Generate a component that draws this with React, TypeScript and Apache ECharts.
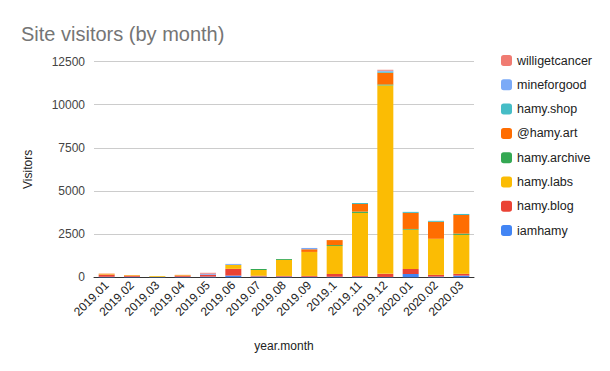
import React, { useEffect, useRef } from "react";
import * as echarts from "echarts";

const categories = ["2019.01","2019.02","2019.03","2019.04","2019.05","2019.06","2019.07","2019.08","2019.09","2019.1","2019.11","2019.12","2020.01","2020.02","2020.03"];
const iamhamy =        [30, 30, 30, 30, 40, 100, 40, 40, 30, 30, 30, 20, 190, 40, 100];
const hamyBlog =       [130, 60, 0, 60, 110, 390, 50, 40, 50, 160, 50, 180, 290, 100, 100];
const hamyLabs =       [30, 30, 45, 25, 0, 230, 330, 930, 1390, 1620, 3650, 10915, 2280, 2090, 2260];
const hamyArchive =    [0, 0, 0, 0, 0, 0, 60, 50, 0, 55, 75, 55, 40, 0, 70];
const hamyArt =        [20, 15, 0, 25, 0, 0, 0, 0, 155, 290, 440, 680, 930, 985, 1080];
const hamyShop =       [0, 0, 0, 0, 0, 0, 0, 0, 0, 0, 60, 60, 60, 55, 60];
const mineforgood =    [0, 0, 0, 0, 60, 55, 0, 0, 75, 0, 0, 60, 0, 0, 0];
const willigetcancer = [0, 0, 0, 0, 50, 0, 0, 0, 0, 0, 0, 50, 0, 0, 0];

const seriesDefs = [
  { name: "iamhamy", data: iamhamy, color: "#4285F4" },
  { name: "hamy.blog", data: hamyBlog, color: "#EA4335" },
  { name: "hamy.labs", data: hamyLabs, color: "#FBBC04" },
  { name: "hamy.archive", data: hamyArchive, color: "#34A853" },
  { name: "@hamy.art", data: hamyArt, color: "#FF6D01" },
  { name: "hamy.shop", data: hamyShop, color: "#46BDC6" },
  { name: "mineforgood", data: mineforgood, color: "#7BAAF7" },
  { name: "willigetcancer", data: willigetcancer, color: "#F07B72" },
];
const legendOrder = ["willigetcancer","mineforgood","hamy.shop","@hamy.art","hamy.archive","hamy.labs","hamy.blog","iamhamy"];

const FONT = "'Liberation Sans', Arial, sans-serif";

export default function App() {
  const ref = useRef<HTMLDivElement>(null);
  useEffect(() => {
    if (!ref.current) return;
    document.body.style.margin = "0";
    const chart = echarts.init(ref.current, null, { renderer: "svg" });
    chart.setOption({
      animation: false,
      textStyle: { fontFamily: FONT },
      title: {
        text: "Site visitors (by month)",
        left: 16,
        top: 19,
        textStyle: { fontFamily: FONT, fontSize: 20, fontWeight: "normal", color: "#757575" },
      },
      legend: {
        orient: "vertical",
        left: 496,
        top: 49,
        itemWidth: 11,
        itemHeight: 11,
        itemGap: 11.3,
        icon: "roundRect",
        data: legendOrder,
        textStyle: { fontFamily: FONT, fontSize: 12.5, color: "#222" },
      },
      grid: { left: 94, right: 136, top: 61.5, bottom: 93.7 },
      xAxis: {
        type: "category",
        data: categories,
        name: "year.month",
        nameLocation: "middle",
        nameGap: 63,
        nameTextStyle: { fontFamily: FONT, fontSize: 12, color: "#222" },
        axisTick: { show: false },
        axisLine: { lineStyle: { color: "#333", width: 1 } },
        axisLabel: { rotate: 45, interval: 0, fontSize: 12, color: "#222", margin: 6, fontFamily: FONT },
      },
      yAxis: {
        type: "value",
        min: 0,
        max: 12500,
        interval: 2500,
        name: "Visitors",
        nameLocation: "middle",
        nameGap: 60,
        nameTextStyle: { fontFamily: FONT, fontSize: 12, color: "#222" },
        axisLine: { show: false },
        axisTick: { show: false },
        axisLabel: { fontSize: 12, color: "#444", margin: 9, fontFamily: FONT, formatter: (v: number) => String(v) },
        splitLine: { lineStyle: { color: "#cccccc" } },
      },
      series: seriesDefs.map((s) => ({
        name: s.name,
        type: "bar",
        stack: "total",
        barWidth: 16,
        data: s.data,
        itemStyle: { color: s.color },
      })),
    });
    return () => chart.dispose();
  }, []);
  return <div ref={ref} style={{ width: 610, height: 371 }} />;
}
